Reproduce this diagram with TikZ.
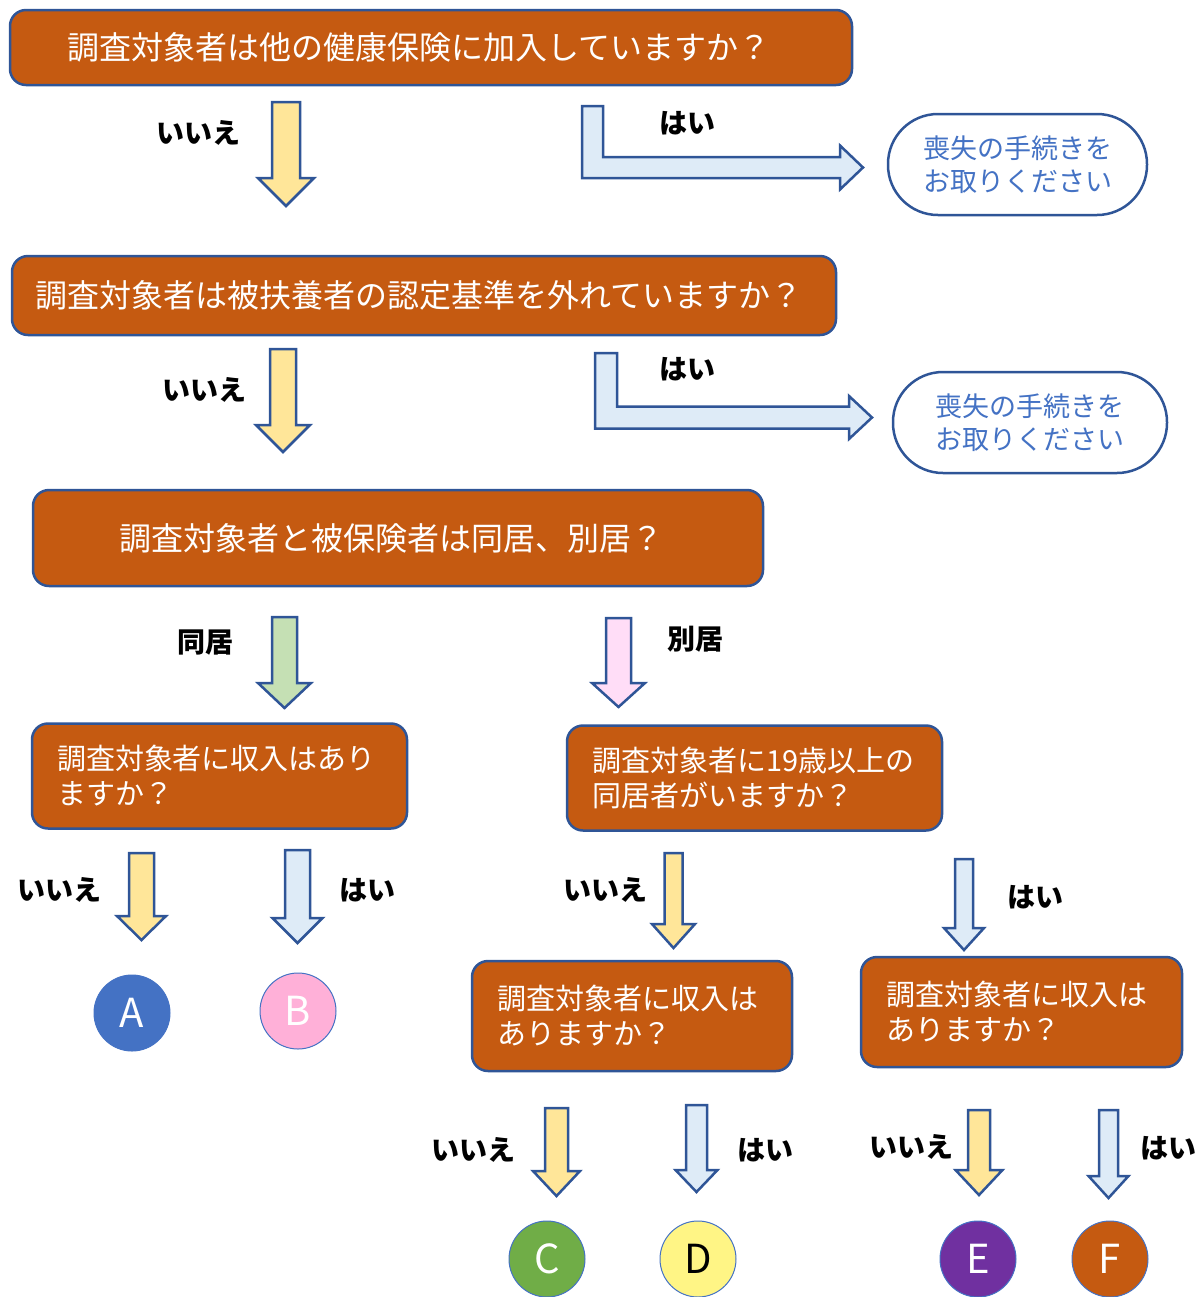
\documentclass[tikz,border=0pt]{standalone}
\usepackage{fontspec}
\setmainfont{Noto Sans CJK JP}
\usetikzlibrary{calc}

\definecolor{boxfill}{HTML}{C55A11}
\definecolor{edgeblue}{HTML}{2F5597}
\definecolor{textblue}{HTML}{4472C4}
\definecolor{noyellow}{HTML}{FFE699}
\definecolor{yesblue}{HTML}{DEEBF7}
\definecolor{livegreen}{HTML}{C5E0B4}
\definecolor{apartpink}{HTML}{FFDDF7}
\definecolor{resA}{HTML}{4472C4}
\definecolor{resB}{HTML}{FFB0D8}
\definecolor{resC}{HTML}{70AD47}
\definecolor{resD}{HTML}{FFF585}
\definecolor{resE}{HTML}{7030A0}
\definecolor{resF}{HTML}{C55A11}

\tikzset{
  question/.style={draw=edgeblue, line width=1.25pt, fill=boxfill, rounded corners=8pt,
    text=white, font=\fontsize{16}{19}\selectfont, inner sep=0pt},
  subquestion/.style={question, font=\fontsize{14.5}{17.5}\selectfont, align=left,
    inner xsep=12.5pt, minimum height=52.5pt},
  lostbox/.style={draw=edgeblue, line width=1.25pt, fill=white, rounded corners=25pt,
    text=textblue, align=center, font=\fontsize{13.5}{16.5}\selectfont, inner sep=0pt,
    minimum height=50.5pt},
  answer/.style={font=\bfseries\fontsize{14}{16}\selectfont, inner sep=0pt},
  result/.style={circle, draw=textblue, line width=0.5pt, minimum size=38pt, inner sep=0pt,
    text=white, font=\fontsize{20}{24}\selectfont},
  blockarr/.style={draw=edgeblue, line width=1.25pt, line join=miter}
}

\newcommand{\blockdown}[6]{%
  \draw[blockarr, fill=#6] let \p1=(#1), \p2=(#2) in
    ({\x1-#3*0.5pt},\y1) -- ({\x1+#3*0.5pt},\y1) -- ({\x1+#3*0.5pt},{\y2+#5*0.5pt})
    -- ({\x1+#4*0.5pt},{\y2+#5*0.5pt}) -- (\x1,\y2) -- ({\x1-#4*0.5pt},{\y2+#5*0.5pt})
    -- ({\x1-#3*0.5pt},{\y2+#5*0.5pt}) -- cycle;}
\newcommand{\blockbend}[6]{%
  \draw[blockarr, fill=#6] let \p1=(#1), \p2=(#2) in
    ({\x1-#3*0.5pt},\y1) -- ({\x1+#3*0.5pt},\y1) -- ({\x1+#3*0.5pt},{\y2+#3*0.5pt})
    -- ({\x2-#5*0.5pt},{\y2+#3*0.5pt}) -- ({\x2-#5*0.5pt},{\y2+#4*0.5pt}) -- (\x2,\y2)
    -- ({\x2-#5*0.5pt},{\y2-#4*0.5pt}) -- ({\x2-#5*0.5pt},{\y2-#3*0.5pt})
    -- ({\x1-#3*0.5pt},{\y2-#3*0.5pt}) -- cycle;}

\begin{document}
\begin{tikzpicture}[x=0.5pt, y=-0.5pt]
\useasboundingbox (0,0) rectangle (1196,1297);
\clip (0,0) rectangle (1196,1297);

\node[question, minimum width=421pt, minimum height=37.5pt] (q1) at (431,47.5) {\hspace*{-12pt}調査対象者は他の健康保険に加入していますか？};
\node[question, minimum width=412pt, minimum height=39.5pt] (q2) at (424,295.5) {\hspace*{-5pt}調査対象者は被扶養者の認定基準を外れていますか？};
\node[question, minimum width=365pt, minimum height=48pt] (q3) at (398,538) {\hspace*{-6pt}調査対象者と被保険者は同居、別居？};
\node[subquestion, text width=162.5pt] (q4) at (219.5,776) {調査対象者に収入はあり\\ますか？};
\node[subquestion, text width=162.5pt] (q5) at (754.5,778) {調査対象者に19歳以上の\\同居者がいますか？};
\node[subquestion, text width=135pt, minimum height=55pt] (q6) at (632,1016) {調査対象者に収入は\\ありますか？};
\node[subquestion, text width=135.5pt, minimum height=55pt] (q7) at (1021.5,1012) {調査対象者に収入は\\ありますか？};

\node[lostbox, minimum width=129.5pt] (lost1) at (1017.5,164.5) {喪失の手続きを\\お取りください};
\node[lostbox, minimum width=137pt] (lost2) at (1030,422.5) {喪失の手続きを\\お取りください};

\node[answer] (no1) at (198.5,133) {いいえ};
\node[answer] (yes1) at (687.5,123) {はい};
\node[answer] (no2) at (204.5,390) {いいえ};
\node[answer] (yes2) at (687.5,369) {はい};
\node[answer] (together) at (205,643) {同居};
\node[answer] (apart) at (695,639) {別居};
\node[answer] (no3) at (60,890) {いいえ};
\node[answer] (yes3) at (367.5,890) {はい};
\node[answer] (no4) at (605,890) {いいえ};
\node[answer] (yes4) at (1035.5,897) {はい};
\node[answer] (no5) at (473,1150) {いいえ};
\node[answer] (yes5) at (765,1150) {はい};
\node[answer] (no6) at (911,1147) {いいえ};
\node[answer] (yes6) at (1168,1148) {はい};

\node[result, fill=resA] (A) at (132,1013) {A};
\node[result, fill=resB] (B) at (298,1011) {B};
\node[result, fill=resC] (C) at (547,1259) {C};
\node[result, fill=resD, text=black] (D) at (698,1259) {D};
\node[result, fill=resE] (E) at (978,1259) {E};
\node[result, fill=resF] (F) at (1110,1259) {F};

\coordinate (a1t) at (286,102);
\coordinate (a1b) at (286,206);
\coordinate (a2t) at (283,349);
\coordinate (a2b) at (283,452);
\coordinate (a3t) at (284.5,617);
\coordinate (a3b) at (284.5,708);
\coordinate (a4t) at (618.5,618);
\coordinate (a4b) at (618.5,707);
\coordinate (a5t) at (141.5,853);
\coordinate (a5b) at (141.5,940);
\coordinate (a6t) at (297.5,850);
\coordinate (a6b) at (297.5,943);
\coordinate (a7t) at (673.5,853);
\coordinate (a7b) at (673.5,948);
\coordinate (a8t) at (964,859);
\coordinate (a8b) at (964,950);
\coordinate (a9t) at (556.5,1108);
\coordinate (a9b) at (556.5,1196);
\coordinate (a10t) at (696.5,1105);
\coordinate (a10b) at (696.5,1192);
\coordinate (a11t) at (979,1110);
\coordinate (a11b) at (979,1195);
\coordinate (a12t) at (1108.5,1110);
\coordinate (a12b) at (1108.5,1198);
\coordinate (b1t) at (592.5,106);
\coordinate (b1e) at (863,167.5);
\coordinate (b2t) at (606,353);
\coordinate (b2e) at (872,417.5);

\blockdown{a1t}{a1b}{14}{28}{28}{noyellow}
\blockdown{a2t}{a2b}{13}{27}{27}{noyellow}
\blockdown{a3t}{a3b}{12.5}{26.5}{25}{livegreen}
\blockdown{a4t}{a4b}{12.5}{26.5}{24}{apartpink}
\blockdown{a5t}{a5b}{12.5}{24.5}{24}{noyellow}
\blockdown{a6t}{a6b}{12.5}{25}{25}{yesblue}
\blockdown{a7t}{a7b}{9}{21.5}{24}{noyellow}
\blockdown{a8t}{a8b}{9}{20}{22}{yesblue}
\blockdown{a9t}{a9b}{11.5}{23.5}{25}{noyellow}
\blockdown{a10t}{a10b}{10.5}{21}{22}{yesblue}
\blockdown{a11t}{a11b}{11}{23.5}{25}{noyellow}
\blockdown{a12t}{a12b}{9.5}{20}{22}{yesblue}
\blockbend{b1t}{b1e}{10.5}{22}{23}{yesblue}
\blockbend{b2t}{b2e}{11}{21.5}{23}{yesblue}
\end{tikzpicture}
\end{document}
